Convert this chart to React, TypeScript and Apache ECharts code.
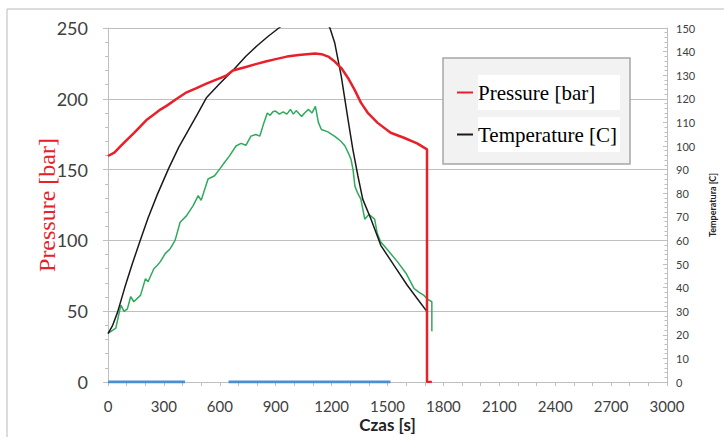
import React, { useEffect, useRef } from "react";
import * as echarts from "echarts";

// Time axis ticks (s)
const timeTicks = [0, 300, 600, 900, 1200, 1500, 1800, 2100, 2400, 2700, 3000];

// Pressure [bar] (left axis)
const pressureTime = [0, 34, 69, 104, 140, 175, 210, 246, 281, 316, 369, 422, 475, 528, 581, 634, 670, 740, 793, 846, 900, 960, 1023, 1111, 1146, 1182, 1217, 1252, 1288, 1323, 1358, 1394, 1447, 1517, 1588, 1659, 1712, 1712, 1738];
const pressureValues = [159.6, 162, 166.7, 171.3, 176, 180.7, 185.4, 188.9, 192.4, 195.2, 200, 204.6, 207.6, 210.7, 213.5, 216.3, 220, 222.5, 224.5, 226.3, 228, 229.8, 231, 232, 231.5, 229.8, 226.3, 221.7, 214.7, 206.5, 197.1, 190.1, 183, 176, 172.5, 168.5, 164.3, 0, 0];

// Temperature [C] (right axis)
const temperatureTime = [0, 25, 51, 90, 130, 171, 215, 265, 325, 380, 430, 480, 528, 600, 670, 740, 800, 860, 917, 1000, 1100, 1160, 1191, 1217, 1252, 1288, 1314, 1341, 1367, 1411, 1464, 1535, 1606, 1659, 1712, 1712];
const temperatureValues = [20.5, 24, 29.5, 40, 50, 59.5, 69.5, 79.5, 90.4, 99.5, 106.5, 113.5, 120.4, 126.5, 132, 138, 142.5, 146.5, 150, 155, 157, 154, 150, 143.6, 129.5, 111.3, 98.6, 87.4, 77.5, 69.1, 57.9, 49.4, 41, 35.4, 29.8, 0];

// Second temperature sensor (green, right axis)
const sensorTime = [0, 42, 69, 86, 104, 122, 139, 175, 201, 215, 246, 265, 281, 307, 334, 360, 387, 422, 457, 484, 500, 537, 572, 599, 625, 652, 687, 714, 740, 767, 793, 815, 837, 855, 870, 885, 899, 920, 940, 960, 979, 995, 1010, 1039, 1055, 1076, 1095, 1113, 1129, 1145, 1180, 1219, 1250, 1272, 1290, 1304, 1315, 1325, 1340, 1357, 1368, 1378, 1400, 1431, 1445, 1463, 1500, 1553, 1600, 1643, 1670, 1696, 1716, 1738, 1738];
const sensorValues = [20.6, 22.8, 32.6, 29.9, 31, 36.2, 34, 36.8, 43.8, 42.5, 48, 49.5, 51, 54.4, 56.5, 60, 67.7, 70.5, 74.7, 79, 77, 86, 87.4, 90.2, 93, 95.8, 100, 101.1, 100.3, 104.2, 104.9, 104.2, 109.9, 114, 113, 114.5, 114.8, 113.5, 114.5, 113.5, 115.5, 113.5, 115, 112.5, 114, 115.5, 114, 116.8, 110, 107, 106, 104, 102, 100, 97, 94.4, 90, 83, 80, 77.5, 73, 69, 71, 69, 63, 59.4, 56, 51, 46, 39.6, 38, 36.7, 35, 34, 21.5];

// Blue trace at zero (left axis), with a gap
const zeroTime = [0, 413, 530, 647, 1516];
const zeroValues: (number | string)[] = [0, 0, "-", 0, 0];

const pair = (xs: number[], ys: (number | string)[]) => xs.map((x, i) => [x, ys[i]]);

export default function App() {
  const ref = useRef<HTMLDivElement>(null);
  useEffect(() => {
    if (!ref.current) return;
    const chart = echarts.init(ref.current, null, { renderer: "svg" });
    const gray = "#bfbfbf";
    const labelColor = "#404040";
    const sans = "Lato";
    chart.setOption({
      animation: false,
      backgroundColor: "#fff",
      grid: { left: 108, right: 52, top: 28, bottom: 54, containLabel: false },
      legend: {
        orient: "vertical",
        left: 443,
        top: 58,
        padding: [17, 10, 12, 14],
        itemGap: 7,
        itemWidth: 16,
        itemHeight: 2,
        icon: "rect",
        backgroundColor: "#f2f2f2",
        borderColor: "#a6a6a6",
        borderWidth: 1.5,
        data: ["Pressure [bar]", "Temperature [C]"],
        textStyle: {
          fontFamily: "Liberation Serif",
          fontSize: 21,
          color: "#000",
          backgroundColor: "#fff",
          width: 142,
          lineHeight: 35,
          padding: [0, 0, 0, 0],
        },
      },
      xAxis: {
        type: "value",
        min: 0,
        max: 3000,
        interval: 300,
        name: "Czas [s]",
        nameLocation: "middle",
        nameGap: 34,
        nameMoveOverlap: false,
        nameTextStyle: { fontFamily: sans, fontSize: 17, fontWeight: "bold", color: "#222" },
        axisLine: { show: true, lineStyle: { color: gray, width: 1 } },
        axisTick: { show: true, length: 4, lineStyle: { color: gray } },
        minorTick: { show: true, splitNumber: 3, length: 4, lineStyle: { color: gray } },
        splitLine: { show: false },
        axisLabel: {
          margin: 16,
          fontFamily: sans,
          fontSize: 15,
          color: labelColor,
          formatter: (v: number) => String(v),
        },
        data: timeTicks,
      },
      yAxis: [
        {
          type: "value",
          min: 0,
          max: 250,
          interval: 50,
          position: "left",
          name: "Pressure [bar]",
          nameLocation: "middle",
          nameRotate: 90,
          nameGap: 43,
          nameMoveOverlap: false,
          nameTextStyle: {
            fontFamily: "Liberation Serif",
            fontSize: 24,
            color: "#e8202a",
            backgroundColor: "#fff",
            padding: [6, 8, 6, 8],
          },
          axisLine: { show: true, lineStyle: { color: gray, width: 1 } },
          axisTick: { show: true, length: 5, lineStyle: { color: gray } },
          minorTick: { show: true, splitNumber: 5, length: 3, lineStyle: { color: gray } },
          splitLine: { show: true, lineStyle: { color: gray, width: 1 } },
          axisLabel: { margin: 20, fontFamily: sans, fontSize: 18, color: labelColor },
        },
        {
          type: "value",
          min: 0,
          max: 150,
          interval: 10,
          position: "right",
          name: "Temperatura [C]",
          nameLocation: "middle",
          nameRotate: 90,
          nameGap: 41,
          nameMoveOverlap: false,
          nameTextStyle: { fontFamily: sans, fontSize: 9, fontWeight: "bold", color: "#222" },
          axisLine: { show: true, lineStyle: { color: gray, width: 1 } },
          axisTick: { show: true, inside: true, length: 4, lineStyle: { color: gray } },
          minorTick: { show: true, splitNumber: 5, length: 2.5, lineStyle: { color: gray } },
          splitLine: { show: false },
          axisLabel: { margin: 9, fontFamily: sans, fontSize: 11, color: labelColor },
        },
      ],
      series: [
        {
          name: "Zero",
          type: "line",
          yAxisIndex: 0,
          data: pair(zeroTime, zeroValues),
          showSymbol: false,
          connectNulls: false,
          lineStyle: { color: "#4a8fd0", width: 3 },
          itemStyle: { color: "#4a8fd0" },
          z: 3,
        },
        {
          name: "Sensor",
          type: "line",
          yAxisIndex: 1,
          data: pair(sensorTime, sensorValues),
          showSymbol: false,
          lineStyle: { color: "#2eaa5c", width: 1.5 },
          itemStyle: { color: "#2eaa5c" },
          z: 4,
        },
        {
          name: "Temperature [C]",
          type: "line",
          yAxisIndex: 1,
          data: pair(temperatureTime, temperatureValues),
          showSymbol: false,
          lineStyle: { color: "#1a1a1a", width: 1.5 },
          itemStyle: { color: "#1a1a1a" },
          z: 5,
        },
        {
          name: "Pressure [bar]",
          type: "line",
          yAxisIndex: 0,
          data: pair(pressureTime, pressureValues),
          showSymbol: false,
          lineStyle: { color: "#e8202a", width: 2.5 },
          itemStyle: { color: "#e8202a" },
          z: 6,
        },
      ],
      graphic: [
        {
          type: "line",
          shape: { x1: 7, y1: 9, x2: 724, y2: 9 },
          style: { stroke: "#d0d0d0", lineWidth: 1.5 },
          silent: true,
        },
        {
          type: "line",
          shape: { x1: 7, y1: 9, x2: 7, y2: 437 },
          style: { stroke: "#d0d0d0", lineWidth: 1.5 },
          silent: true,
        },
      ],
    });
    return () => chart.dispose();
  }, []);
  return (
    <div
      style={{ position: "absolute", left: 0, top: 0, width: 725, height: 438, overflow: "hidden" }}
    >
      <div ref={ref} style={{ width: 725, height: 438 }} />
    </div>
  );
}
